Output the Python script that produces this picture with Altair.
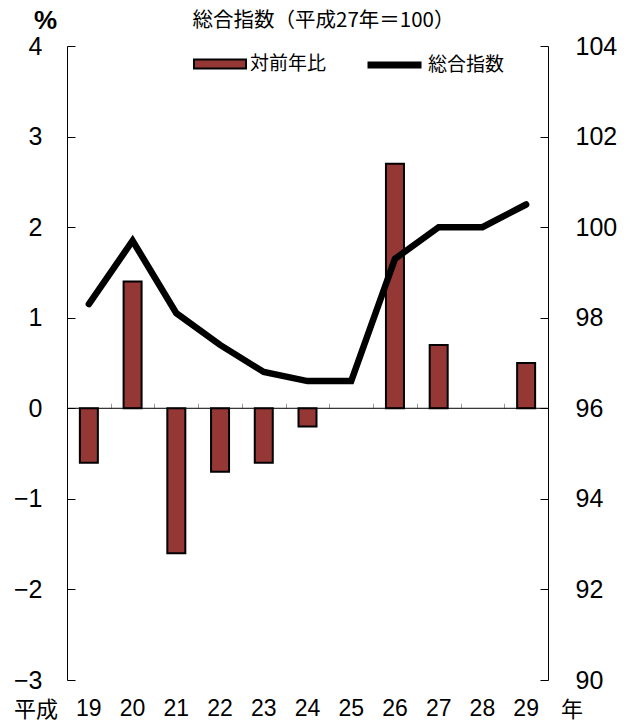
import altair as alt
import pandas as pd

# ---- data ----
years = ["19", "20", "21", "22", "23", "24", "25", "26", "27", "28", "29"]
yoy = [-0.6, 1.4, -1.6, -0.7, -0.6, -0.2, 0.0, 2.7, 0.7, 0.0, 0.5]          # 対前年比 (%)
index_vals = [98.3, 99.7, 98.1, 97.4, 96.8, 96.6, 96.6, 99.3, 100.0, 100.0, 100.5]  # 総合指数
series_names = ["対前年比", "総合指数"]
pct_ticks = [-3, -2, -1, 0, 1, 2, 3, 4]
idx_ticks = [90, 92, 94, 96, 98, 100, 102, 104]
title_text = "総合指数（平成27年＝100）"
era_text = "平成"
year_unit = "年"
pct_unit = "%"

df = pd.DataFrame({"year": years, "yoy": yoy, "idx": index_vals,
                   "s1": series_names[0], "s2": series_names[1]})
one = pd.DataFrame({"k": [0]})

W, H = 481, 634
PCT_DOMAIN = [-3, 4]
IDX_DOMAIN = [90, 104]
zero_off = H * PCT_DOMAIN[1] / (PCT_DOMAIN[1] - PCT_DOMAIN[0])

NUM_FONT = "Liberation Sans"
JP_FONT = "Noto Sans CJK JP"
BAR_COLOR = "#953735"

xscale = alt.Scale(domain=years, paddingInner=0, paddingOuter=0)
pct_scale = alt.Scale(domain=PCT_DOMAIN, nice=False, zero=False)
idx_scale = alt.Scale(domain=IDX_DOMAIN, nice=False, zero=False)

base = alt.Chart(df)

bars = base.transform_filter("datum.yoy != 0").mark_bar(
    size=18, stroke="black", strokeWidth=2).encode(
    x=alt.X("year:N", scale=xscale, sort=years,
            axis=alt.Axis(orient="bottom", domain=False, ticks=False, tickSize=0,
                          labelAngle=0, labelFont=NUM_FONT, labelFontSize=23,
                          labelColor="black", labelPadding=17, title=None)),
    y=alt.Y("yoy:Q", scale=pct_scale,
            axis=alt.Axis(orient="left", values=pct_ticks, domain=True, domainColor="black",
                          domainWidth=1, ticks=False, tickSize=0, grid=False,
                          labelFont=NUM_FONT, labelFontSize=25, labelColor="black",
                          labelPadding=25, title=pct_unit, titleAngle=0, titleX=-22,
                          titleY=-13, titleAlign="center", titleBaseline="bottom",
                          titleFont=NUM_FONT, titleFontSize=26, titleFontWeight="bold",
                          titleColor="black")),
    fill=alt.Fill("s1:N", scale=alt.Scale(domain=[series_names[0]], range=[BAR_COLOR]),
                  legend=alt.Legend(orient="none", legendX=126, legendY=-9,
                                    direction="horizontal", title=None,
                                    symbolType="M-1,-0.17H1V0.17H-1Z", symbolSize=2704,
                                    symbolStrokeColor="black", symbolStrokeWidth=2,
                                    labelFont=JP_FONT, labelFontSize=19, labelColor="black",
                                    labelOffset=3, padding=0)),
)

zero = alt.Chart(one).mark_rule(color="black", strokeWidth=1).encode(
    y=alt.YDatum(0, type="quantitative", scale=pct_scale,
                 axis=alt.Axis(orient="right", offset=-W, values=pct_ticks, domain=False,
                               labels=False, ticks=True, tickSize=8, tickColor="black",
                               tickWidth=1, grid=False, title=None)),
)

line = base.mark_line(color="black", strokeWidth=6.5, strokeCap="round").encode(
    x=alt.X("year:N", scale=xscale, sort=years,
            axis=alt.Axis(orient="top", offset=-zero_off, domain=False, labels=False,
                          ticks=True, tickBand="extent", tickSize=5, tickColor="#9a9a9a",
                          tickWidth=1, title=None)),
    y=alt.Y("idx:Q", scale=idx_scale,
            axis=alt.Axis(orient="right", values=idx_ticks, domain=True, domainColor="black",
                          domainWidth=1, ticks=False, tickSize=0, grid=False,
                          labelFont=NUM_FONT, labelFontSize=25, labelColor="black",
                          labelPadding=27, title=None)),
    stroke=alt.Stroke("s2:N", scale=alt.Scale(domain=[series_names[1]], range=["black"]),
                      legend=alt.Legend(orient="none", legendX=297, legendY=-11.5,
                                        direction="horizontal", title=None,
                                        symbolType="stroke", symbolSize=2916,
                                        symbolStrokeWidth=7, labelFont=JP_FONT,
                                        labelFontSize=19, labelColor="black",
                                        labelOffset=3, padding=0)),
)

idx_tick_layer = base.mark_line(strokeOpacity=0).encode(
    x=alt.X("year:N", scale=xscale, sort=years, axis=None),
    y=alt.Y("idx:Q", scale=idx_scale,
            axis=alt.Axis(orient="left", offset=-W, values=idx_ticks, domain=False,
                          labels=False, ticks=True, tickSize=8, tickColor="black",
                          tickWidth=1, grid=False, title=None)),
)

title_mark = alt.Chart(one).mark_text(text=title_text, font=JP_FONT, fontSize=20.5,
                                      align="center", baseline="alphabetic",
                                      color="black").encode(
    x=alt.value(W / 2 + 16), y=alt.value(-19))
era_mark = alt.Chart(one).mark_text(text=era_text, font=JP_FONT, fontSize=22,
                                    align="center", baseline="middle",
                                    color="black").encode(
    x=alt.value(-31), y=alt.value(664))
unit_mark = alt.Chart(one).mark_text(text=year_unit, font=JP_FONT, fontSize=22,
                                     align="center", baseline="middle",
                                     color="black").encode(
    x=alt.value(505), y=alt.value(664))

chart = alt.layer(bars, zero, line, idx_tick_layer, title_mark, era_mark, unit_mark).resolve_scale(
    y="independent"
).resolve_axis(
    x="independent", y="independent"
).properties(
    width=W, height=H,
    autosize=alt.AutoSizeParams(type="none"),
    padding={"left": 59, "top": 38, "right": 79, "bottom": 40},
).configure_view(stroke=None).configure_axis(grid=False)

chart.save("out.html", embed_options={"renderer": "svg", "actions": False})
